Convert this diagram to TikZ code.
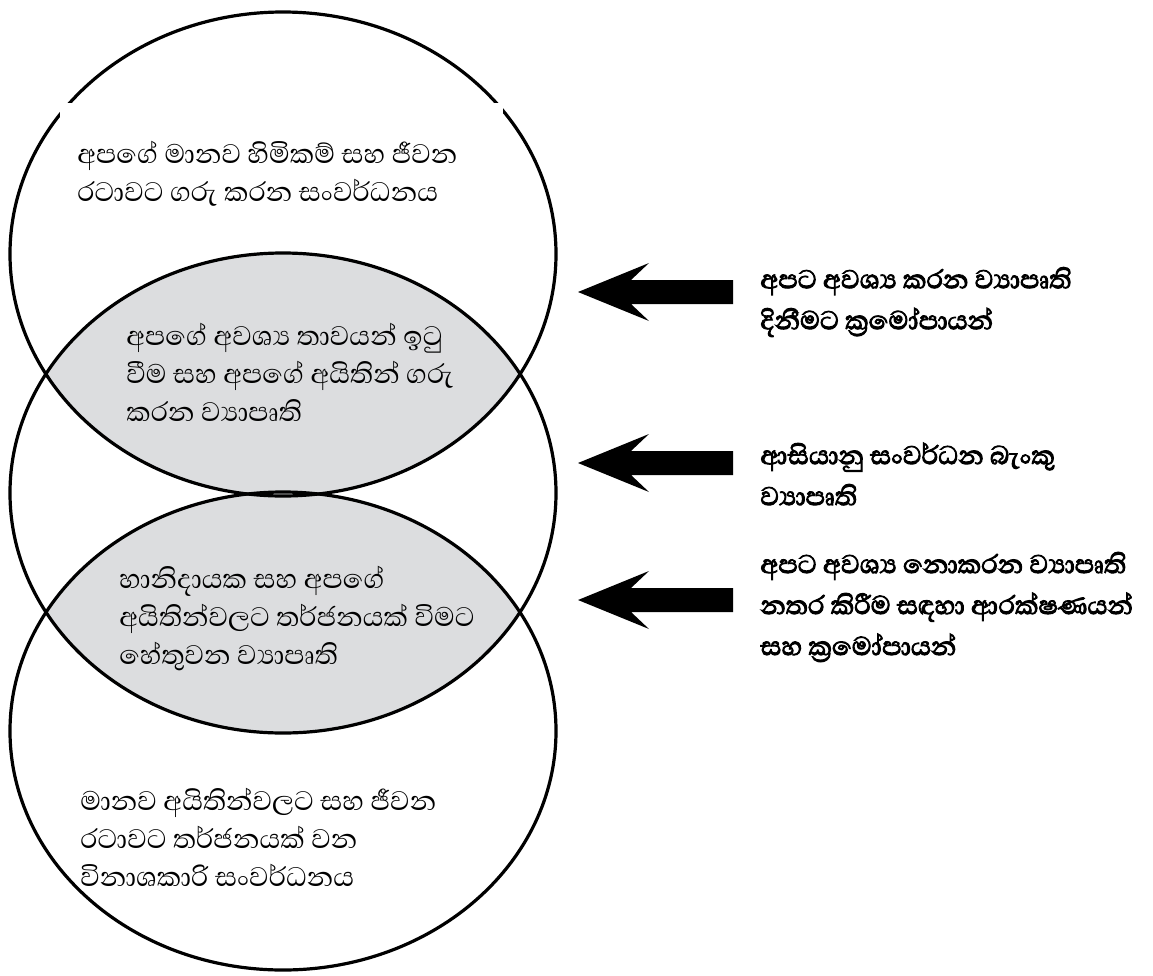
\documentclass[tikz,border=0pt]{standalone}
\usepackage{fontspec}
\newfontfamily\sinfont[Script=Sinhala]{Abhaya Libre}
\newfontfamily\sinbold[Script=Sinhala,FakeBold=3]{Abhaya Libre}
\definecolor{lensgrey}{RGB}{220,221,223}
\tikzset{
  ring/.style={draw=black, line width=1.6pt},
  lens/.style={fill=lensgrey},
  lefttext/.style={anchor=west, align=left, inner sep=0pt, font=\sinfont\fontsize{17.2}{19}\selectfont},
  righttext/.style={anchor=west, align=left, inner sep=0pt, font=\sinbold\fontsize{16.5}{20.5}\selectfont},
  blockarrow/.style={fill=black}
}
\begin{document}
\begin{tikzpicture}[x=0.5pt,y=-0.5pt]
\useasboundingbox (0,0) rectangle (1153,976);
\fill[white] (0,0) rectangle (1153,976);
\coordinate (T) at (283,254);
\coordinate (M) at (283,493);
\coordinate (B) at (283,731);
% grey overlaps
\begin{scope}
  \clip (T) ellipse [x radius=136.5pt, y radius=121pt];
  \fill[lens] (M) ellipse [x radius=136.5pt, y radius=120pt];
\end{scope}
\begin{scope}
  \clip (M) ellipse [x radius=136.5pt, y radius=120pt];
  \fill[lens] (B) ellipse [x radius=136.5pt, y radius=119.5pt];
\end{scope}
% outlines
\draw[ring] (T) ellipse [x radius=136.5pt, y radius=121pt];
\draw[ring] (M) ellipse [x radius=136.5pt, y radius=120pt];
\draw[ring] (B) ellipse [x radius=136.5pt, y radius=119.5pt];
% white text box over the top ring
\fill[white] (60,103) rectangle (503,225);
% left texts
\node[lefttext] (t1) at (77,174) {අපගේ මානව හිමිකම් සහ ජීවන\\රටාවට ගරු කරන සංවර්ධනය};
\node[lefttext] (t2) at (126,372) {අපගේ අවශ්‍ය තාවයන් ඉටු\\වීම සහ අපගේ අයිතින් ගරු\\කරන ව්‍යාපෘති};
\node[lefttext] (t3) at (119,618) {හානිදායක සහ අපගේ\\අයිතින්වලට තර්ජනයක් විමට\\හේතුවන ව්‍යාපෘති};
\node[lefttext] (t4) at (80,837) {මානව අයිතින්වලට සහ ජීවන\\රටාවට තර්ජනයක් වන\\විනාශකාරි සංවර්ධනය};
% arrows
\coordinate (a1) at (578,292);
\coordinate (a2) at (578,463);
\coordinate (a3) at (578,600);
\foreach \a in {a1,a2,a3}{
  \fill[blockarrow] (\a) -- ++(71,-29) -- ++(-18,17) -- ++(102,0) -- ++(0,24) -- ++(-102,0) -- ++(18,17) -- cycle;
}
% right texts
\node[righttext] (r1) at (760,302) {අපට අවශ්‍ය කරන ව්‍යාපෘති\\දිනීමට ක්‍රමෝපායන්};
\node[righttext] (r2) at (760,474) {ආසියානු සංවර්ධන බැංකු\\ව්‍යාපෘති};
\node[righttext] (r3) at (760,607) {අපට අවශ්‍ය නොකරන ව්‍යාපෘති\\නතර කිරීම සඳහා ආරක්ෂණයන්\\සහ ක්‍රමෝපායන්};
\end{tikzpicture}
\end{document}
